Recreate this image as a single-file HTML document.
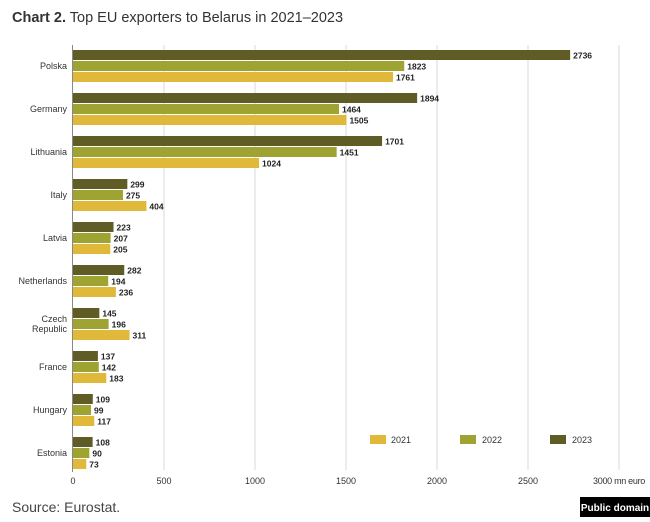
<!DOCTYPE html><html><head><meta charset="utf-8"><style>
body{margin:0;background:#fff;width:650px;height:517px;overflow:hidden;font-family:"Liberation Sans",sans-serif}
</style></head><body>
<svg width="650" height="517" xmlns="http://www.w3.org/2000/svg" font-family="Liberation Sans, sans-serif">
<text x="12" y="22" font-size="14.5" fill="#333"><tspan font-weight="bold">Chart 2.</tspan> Top EU exporters to Belarus in 2021–2023</text>
<g stroke="#d8d8d8" stroke-width="1">
<line x1="164" y1="45" x2="164" y2="470"/><line x1="255" y1="45" x2="255" y2="470"/><line x1="346" y1="45" x2="346" y2="470"/><line x1="437" y1="45" x2="437" y2="470"/><line x1="528" y1="45" x2="528" y2="470"/><line x1="619" y1="45" x2="619" y2="470"/>
</g>
<g font-size="9" fill="#333" text-anchor="middle">
<text x="73" y="484">0</text><text x="164" y="484">500</text><text x="255" y="484">1000</text><text x="346" y="484">1500</text><text x="437" y="484">2000</text><text x="528" y="484">2500</text><text x="645" y="484" text-anchor="end" letter-spacing="-0.3">3000 mn euro</text>
</g>
<g id="bars" font-size="8.5" font-weight="bold" fill="#222"></g>
<line x1="72.5" y1="45" x2="72.5" y2="472" stroke="#888"/>
<g font-size="9" fill="#333">
<rect x="370" y="435" width="16" height="9" fill="#e0b83a"/><text x="391" y="443">2021</text>
<rect x="460" y="435" width="16" height="9" fill="#9fa332"/><text x="482" y="443">2022</text>
<rect x="550" y="435" width="16" height="9" fill="#5f5c26"/><text x="572" y="443">2023</text>
</g>
<text x="12" y="512" font-size="14" fill="#444">Source: Eurostat.</text>
<rect x="580" y="497" width="70" height="20" fill="#000"/>
<text x="615" y="511" font-size="10" font-weight="bold" fill="#fff" text-anchor="middle">Public domain</text>
</svg>
<script>
var d=[["Polska",2736,1823,1761],["Germany",1894,1464,1505],["Lithuania",1701,1451,1024],["Italy",299,275,404],["Latvia",223,207,205],["Netherlands",282,194,236],["Czech|Republic",145,196,311],["France",137,142,183],["Hungary",109,99,117],["Estonia",108,90,73]];
var c=["#5f5c26","#9fa332","#e0b83a"],s="";
d.forEach(function(r,i){var y=50+i*43;
for(var k=0;k<3;k++){var yy=y+k*11,w=r[k+1]*0.1817;
s+='<rect x="73" y="'+yy+'" width="'+w+'" height="10" fill="'+c[k]+'"/>';
s+='<text x="'+(76+w)+'" y="'+(yy+8.5)+'">'+r[k+1]+'</text>';}
var n=r[0].split("|");
if(n.length==1)s+='<text x="67" y="'+(y+19)+'" text-anchor="end" font-weight="normal" font-size="9" fill="#333">'+n[0]+'</text>';
else s+='<text x="67" y="'+(y+14)+'" text-anchor="end" font-weight="normal" font-size="9" fill="#333">'+n[0]+'</text><text x="67" y="'+(y+24)+'" text-anchor="end" font-weight="normal" font-size="9" fill="#333">'+n[1]+'</text>';
});
document.getElementById("bars").innerHTML=s;
</script>
</body></html>
